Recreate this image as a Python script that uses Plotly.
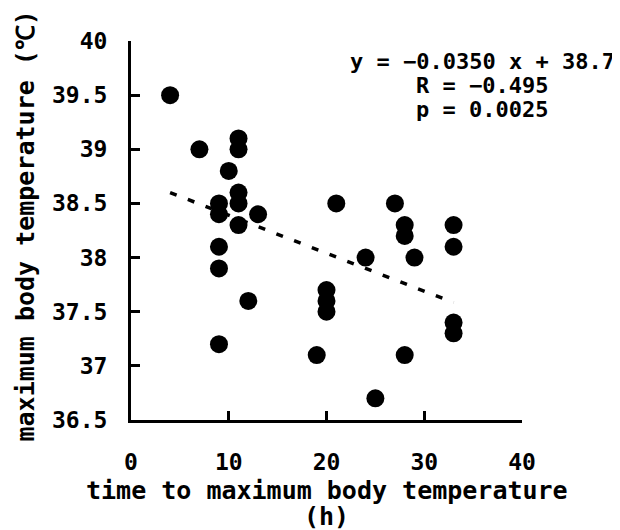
import plotly.graph_objects as go

# Data
hours = [4, 7, 11, 11, 10, 11, 11, 9, 9, 21, 13, 11,
         9, 9, 12, 9, 19, 20, 20, 20,
         27, 28, 28, 33, 33, 24, 29, 33, 33, 28, 25]
temps = [39.5, 39.0, 39.1, 39.0, 38.8, 38.6, 38.5, 38.5, 38.4, 38.5, 38.4, 38.3,
         38.1, 37.9, 37.6, 37.2, 37.1, 37.7, 37.6, 37.5,
         38.5, 38.3, 38.2, 38.3, 38.1, 38.0, 38.0, 37.4, 37.3, 37.1, 36.7]

fit_slope = -0.0350
fit_intercept = 38.74
fit_x_range = [4, 33]

x_ticks = [0, 10, 20, 30, 40]
y_ticks = [36.5, 37, 37.5, 38, 38.5, 39, 39.5, 40]
y_tick_labels = ["36.5", "37", "37.5", "38", "38.5", "39", "39.5", "40"]

stats_lines = ["y = −0.0350 x + 38.7", "R = −0.495", "p = 0.0025"]
x_title_lines = ["time to maximum body temperature", "(h)"]
y_title = "maximum body temperature (℃)"

FONT = "DejaVu Sans Mono"

fit_y = [fit_slope * x + fit_intercept for x in fit_x_range]

fig = go.Figure()
fig.add_trace(go.Scatter(
    x=fit_x_range, y=fit_y, mode="lines",
    line=dict(color="black", width=3.5, dash="7px,12px"),
    hoverinfo="skip", showlegend=False))
fig.add_trace(go.Scatter(
    x=hours, y=temps, mode="markers",
    marker=dict(color="black", size=18, line=dict(width=0)),
    showlegend=False))

axis_common = dict(
    showgrid=False, zeroline=False, showline=True, linecolor="black", linewidth=3,
    ticks="inside", ticklen=9, tickwidth=3, tickcolor="black",
    tickfont=dict(family=FONT, size=23, color="black", weight="bold"),
)

fig.update_xaxes(range=[0, 40], tickvals=x_ticks, ticklabelstandoff=19, **axis_common)
fig.update_yaxes(range=[36.5, 40], tickvals=y_ticks, ticktext=y_tick_labels,
                 ticklabelstandoff=16, **axis_common)

annotations = []
for i, line in enumerate(stats_lines):
    annotations.append(dict(
        xref="paper", yref="paper", x=0.898, y=1.0, yshift=-20 - 24 * i,
        text=line, showarrow=False, xanchor="center", yanchor="middle",
        font=dict(family=FONT, size=22, color="black", weight="bold")))

for i, line in enumerate(x_title_lines):
    annotations.append(dict(
        xref="paper", yref="paper", x=0.5, y=0.0, yshift=-70 - 26 * i,
        text=line, showarrow=False, xanchor="center", yanchor="middle",
        borderpad=0,
        font=dict(family=FONT, size=25, color="black", weight="bold")))

annotations.append(dict(
    xref="paper", yref="paper", x=0.0, y=0.5, xshift=-106, yshift=4,
    text=y_title, showarrow=False, textangle=-90,
    xanchor="center", yanchor="middle",
    font=dict(family=FONT, size=25, color="black", weight="bold")))

# The page body adds an 8px offset, so the figure is sized to fit the window.
fig.update_layout(
    width=612, height=522,
    margin=dict(l=123, r=98, t=33, b=110),
    paper_bgcolor="white", plot_bgcolor="white",
    annotations=annotations,
)

fig.write_html("out.html")
